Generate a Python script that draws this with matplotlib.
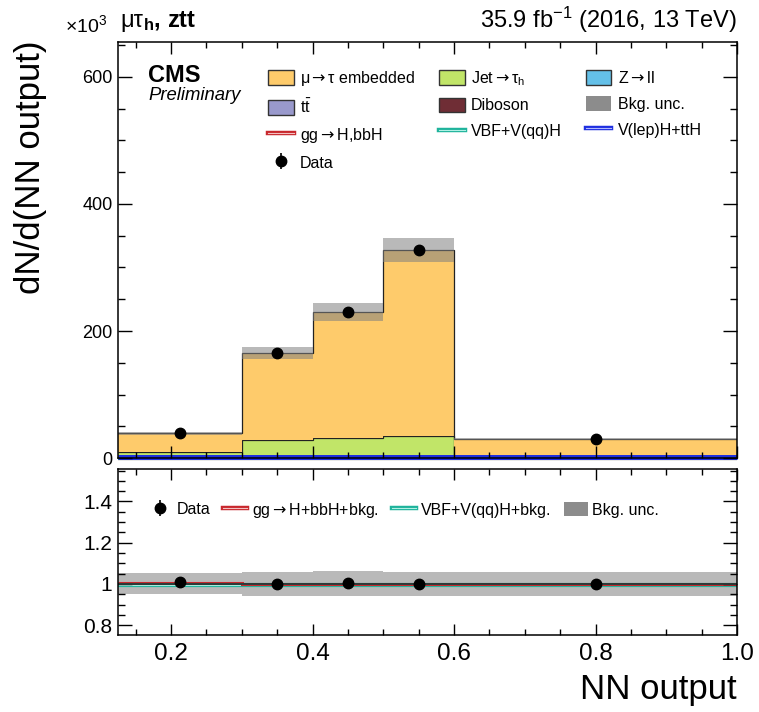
import numpy as np
import matplotlib
matplotlib.use("Agg")
from matplotlib import pyplot as plt
from matplotlib.lines import Line2D
from matplotlib.patches import Patch
from matplotlib.ticker import MultipleLocator, FixedLocator, FixedFormatter

plt.rcParams['font.family'] = ['Liberation Sans', 'DejaVu Sans']
plt.rcParams['mathtext.fontset'] = 'custom'
plt.rcParams['mathtext.rm'] = 'Liberation Sans'
plt.rcParams['mathtext.it'] = 'Liberation Sans:italic'
plt.rcParams['mathtext.bf'] = 'Liberation Sans:bold'
plt.rcParams['mathtext.sf'] = 'DejaVu Sans'

# NN output binning
bin_edges = [0.125, 0.3, 0.4, 0.5, 0.6, 1.0]
bin_centers = [0.2125, 0.35, 0.45, 0.55, 0.8]

# yields per bin (x 10^3 events), stacked bottom to top
diboson = [0.3, 0.6, 0.7, 0.8, 0.2]
ttbar = [0.8, 1.2, 1.3, 1.2, 0.4]
zll = [2.0, 2.5, 2.7, 2.9, 1.6]
jetfakes = [6.5, 23.5, 27.0, 29.5, 0.8]
embedded = [29.4, 137.0, 198.0, 293.5, 27.0]
bkg_unc = [2.0, 9.5, 14.0, 19.0, 1.7]
data = [39.3, 165.0, 230.7, 327.0, 30.0]

# signal templates (x 10^3 events)
sig_ggh = [0.25, 0.15, 0.2, 0.1, 0.05]
sig_qqh = [0.02, 0.05, 0.05, 0.05, 0.03]
sig_vh = [1.5, 1.5, 1.5, 1.5, 1.5]

c_emb = '#fecb6b'
c_jet = '#c1e568'
c_zll = '#64c0e8'
c_tt = '#9999cc'
c_vv = '#6f2d35'
c_ggh = '#c8282d'
c_qqh = '#1fb39c'
c_vh = '#1f2fe0'

ARR = r'$\mathsf{\rightarrow}$'

edges = np.array(bin_edges)
layers = [(diboson, c_vv), (ttbar, c_tt), (zll, c_zll), (jetfakes, c_jet), (embedded, c_emb)]
total = np.sum([np.array(v) for v, _ in layers], axis=0)
unc = np.array(bkg_unc)
d = np.array(data)
d_err = np.sqrt(d * 1000.0) / 1000.0

fig = plt.figure(figsize=(7.59, 7.12), dpi=100)
ax = fig.add_axes([0.1555, 0.3567, 0.8155, 0.5843])
rax = fig.add_axes([0.1555, 0.1081, 0.8155, 0.2331])

# stacked backgrounds
bottom = np.zeros(len(bin_centers))
for vals, col in layers:
    top = bottom + np.array(vals)
    ax.stairs(top, edges, baseline=bottom, fill=True, facecolor=col, edgecolor='none')
    ax.stairs(top, edges, baseline=None, color='#222222', lw=0.9)
    bottom = top

# background uncertainty
ax.stairs(total + unc, edges, baseline=total - unc, fill=True, color='#808080', alpha=0.55, lw=0)

# signals
ax.stairs(np.array(sig_ggh), edges, baseline=None, color=c_ggh, lw=3, clip_on=False)
ax.stairs(np.array(sig_qqh), edges, baseline=None, color=c_qqh, lw=3, clip_on=False)
ax.stairs(np.array(sig_vh), edges, baseline=None, color=c_vh, lw=3.6, clip_on=False)

data_h = ax.errorbar(bin_centers, data, yerr=d_err, fmt='o', color='black', ms=7.5,
                     elinewidth=1.2, capsize=0, zorder=10)

ax.set_xlim(0.125, 1.0)
ax.set_ylim(0, 655)
ax.yaxis.set_major_locator(FixedLocator([0, 200, 400, 600]))
ax.yaxis.set_major_formatter(FixedFormatter(['0', '200', '400', '600']))
ax.yaxis.set_minor_locator(MultipleLocator(50))
ax.xaxis.set_major_locator(MultipleLocator(0.2))
ax.xaxis.set_minor_locator(MultipleLocator(0.05))
ax.tick_params(which='both', direction='in', top=True, right=True, labelbottom=False)
ax.tick_params(axis='y', which='major', length=10, width=1, labelsize=13, pad=4)
ax.tick_params(axis='y', which='minor', length=5, width=1)
ax.tick_params(axis='x', which='major', length=8.5, width=1)
ax.tick_params(axis='x', which='minor', length=4.5, width=1)

# ratio panel
ratio_ggh = (total + np.array(sig_ggh)) / total
ratio_qqh = (total + np.array(sig_qqh)) / total
ratio_data = d / total
ratio_err = d_err / total

rax.stairs(1 + unc / total, edges, baseline=1 - unc / total, fill=True, color='#808080', alpha=0.55, lw=0)
rax.stairs(ratio_qqh - 0.004, edges, baseline=None, color=c_qqh, lw=3.0)
rax.stairs(ratio_qqh - 0.004, edges, baseline=None, color='#a8eee0', lw=0.8)
rax.axhline(1.0, color='#2a3a38', lw=1.4)
rax.stairs(ratio_ggh, edges, baseline=None, color=c_ggh, lw=2.2)
rax.stairs(ratio_ggh, edges, baseline=None, color='#f0b0b0', lw=0.6)
rax.errorbar(bin_centers, ratio_data, yerr=ratio_err, fmt='o', color='black', ms=7.5,
             elinewidth=1.2, capsize=0, zorder=10)

rax.set_xlim(0.125, 1.0)
rax.set_ylim(0.752, 1.557)
rax.yaxis.set_major_locator(FixedLocator([0.8, 1.0, 1.2, 1.4]))
rax.yaxis.set_major_formatter(FixedFormatter(['0.8', '1', '1.2', '1.4']))
rax.yaxis.set_minor_locator(MultipleLocator(0.05))
rax.xaxis.set_major_locator(FixedLocator([0.2, 0.4, 0.6, 0.8, 1.0]))
rax.xaxis.set_major_formatter(FixedFormatter(['0.2', '0.4', '0.6', '0.8', '1.0']))
rax.xaxis.set_minor_locator(MultipleLocator(0.05))
rax.tick_params(which='both', direction='in', top=True, right=True)
rax.tick_params(axis='y', which='major', length=10, width=1, labelsize=15, pad=4)
rax.tick_params(axis='y', which='minor', length=5, width=1)
rax.tick_params(axis='x', which='major', length=8, width=1, labelsize=17.5, pad=6)
rax.tick_params(axis='x', which='minor', length=4, width=1)

for a in (ax, rax):
    for s in a.spines.values():
        s.set_linewidth(1.1)

# legends
def dline(col, inner):
    return (Line2D([], [], color=col, lw=3.2), Line2D([], [], color=inner, lw=0.8))

h_emb = Patch(facecolor=c_emb, edgecolor='#333333', lw=1)
h_tt = Patch(facecolor=c_tt, edgecolor='#333333', lw=1)
h_jet = Patch(facecolor=c_jet, edgecolor='#333333', lw=1)
h_vv = Patch(facecolor=c_vv, edgecolor='#333333', lw=1)
h_zll = Patch(facecolor=c_zll, edgecolor='#333333', lw=1)
h_unc = Patch(facecolor='#8c8c8c', edgecolor='none')
h_ggh = dline(c_ggh, '#f4c0c0')
h_qqh = dline(c_qqh, '#b0f0e4')
h_vh = dline(c_vh, '#b0b8ff')

handles = [h_emb, h_tt, h_ggh, data_h, h_jet, h_vv, h_qqh, h_zll, h_unc, h_vh]
labels = ['μ' + ARR + 'τ embedded', r't$\bar{\mathrm{t}}$', 'gg' + ARR + 'H,bbH', 'Data',
          'Jet' + ARR + r'τ$_{\mathrm{h}}$', 'Diboson', 'VBF+V(qq)H',
          'Z' + ARR + 'll', 'Bkg. unc.', 'V(lep)H+ttH']
ax.legend(handles, labels, ncol=3, loc='upper left', bbox_to_anchor=(268 / 759, 1 - 69 / 712),
          bbox_transform=fig.transFigure, frameon=False, fontsize=11.5, borderpad=0,
          borderaxespad=0, handlelength=1.6, handleheight=1.05, handletextpad=0.4,
          columnspacing=1.5, labelspacing=0.62)

rax.legend([data_h, h_ggh, h_qqh, h_unc],
           ['Data', 'gg' + ARR + 'H+bbH+bkg.', 'VBF+V(qq)H+bkg.', 'Bkg. unc.'],
           ncol=4, loc='center left', bbox_to_anchor=(148 / 759, 1 - 510 / 712),
           bbox_transform=fig.transFigure, frameon=False, fontsize=11.5, borderpad=0,
           borderaxespad=0, handlelength=1.5, handleheight=1.0, handletextpad=0.3,
           columnspacing=0.8)

# labels and annotations
fig.text(0.040, 1 - 40 / 712, 'dN/d(NN output)', rotation=90, ha='center', va='top', fontsize=25)
fig.text(737 / 759, 1 - 690 / 712, 'NN output', ha='right', va='center', fontsize=25)
fig.text(65 / 759, 1 - 32 / 712, r'×10$^{3}$', ha='left', va='baseline', fontsize=14)
fig.text(120 / 759, 1 - 27 / 712, 'μτ', ha='left', va='baseline', fontsize=17)
fig.text(143 / 759, 1 - 27 / 712, r'$_{\mathbf{h}}$, ztt', ha='left', va='baseline',
         fontsize=17, fontweight='bold')
fig.text(737 / 759, 1 - 28 / 712, r'35.9 fb$^{-1}$ (2016, 13 TeV)', ha='right', va='baseline', fontsize=17)
fig.text(148 / 759, 1 - 76 / 712, 'CMS', ha='left', va='center', fontsize=17, fontweight='bold')
fig.text(148 / 759, 1 - 96 / 712, 'Preliminary', ha='left', va='center', fontsize=13.3, style='italic')

fig.savefig('out.png', dpi=100)
